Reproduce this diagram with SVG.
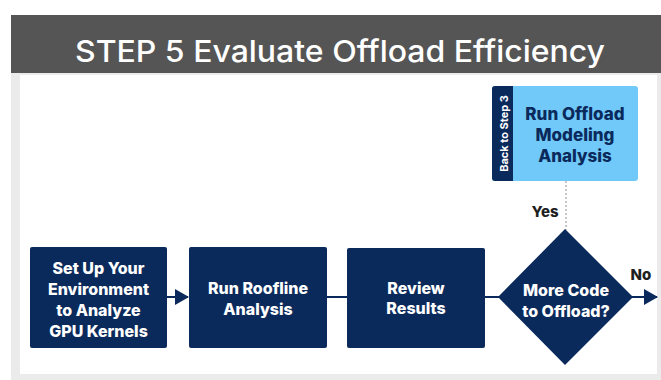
<svg xmlns="http://www.w3.org/2000/svg" width="661" height="380" viewBox="0 0 661 380">
<style>
.node{fill:#0b2a5c}
.t{font-family:Inter,"Liberation Sans",sans-serif;font-weight:800;font-size:16px;fill:#ffffff;text-anchor:middle}
.tb{font-family:Inter,"Liberation Sans",sans-serif;font-weight:800;font-size:17px;fill:#0b2a5c;text-anchor:middle}
.lbl{font-family:Inter,"Liberation Sans",sans-serif;font-weight:800;font-size:15px;fill:#1f1f1f;text-anchor:middle}
.ln{stroke:#0b2a5c;stroke-width:2;fill:none}
</style>
<defs>
<marker id="ah" markerWidth="14" markerHeight="16" refX="13" refY="8" orient="auto" markerUnits="userSpaceOnUse">
<path d="M0,0 L14,8 L0,16 Z" fill="#0b2a5c"/>
</marker>
</defs>
<rect x="0" y="0" width="661" height="380" fill="#ffffff"/>
<rect x="11" y="73" width="650" height="307" fill="#ebebeb"/>
<rect x="20" y="75" width="637" height="299" fill="#ffffff"/>
<g id="header">
<rect x="11" y="15" width="650" height="58" fill="#555555"/>
<text x="340" y="62" font-family="Inter,'Liberation Sans',sans-serif" font-size="30" font-weight="500" fill="#ffffff" text-anchor="middle" textLength="530" lengthAdjust="spacingAndGlyphs">STEP 5 Evaluate Offload Efficiency</text>
</g>
<g id="connectors">
<line class="ln" x1="167" y1="297" x2="188" y2="297" marker-end="url(#ah)"/>
<line class="ln" x1="327" y1="297" x2="347" y2="297"/>
<line class="ln" x1="485" y1="297" x2="499" y2="297"/>
<line class="ln" x1="632" y1="297" x2="657" y2="297" marker-end="url(#ah)"/>
<line x1="566" y1="181" x2="566" y2="230" stroke="#b5b5b5" stroke-width="1.5" stroke-dasharray="2,2"/>
<text class="lbl" x="545" y="217">Yes</text>
<text class="lbl" x="641" y="280">No</text>
</g>
<g id="setup">
<rect class="node" x="30" y="247" width="137" height="101" rx="2"/>
<text class="t" x="98.5" y="274">Set Up Your</text>
<text class="t" x="98.5" y="295">Environment</text>
<text class="t" x="98.5" y="316">to Analyze</text>
<text class="t" x="98.5" y="337">GPU Kernels</text>
</g>
<g id="roofline">
<rect class="node" x="189" y="247" width="138" height="101" rx="2"/>
<text class="t" x="258" y="294">Run Roofline</text>
<text class="t" x="258" y="315">Analysis</text>
</g>
<g id="review">
<rect class="node" x="347" y="248" width="138" height="100" rx="2"/>
<text class="t" x="416" y="294">Review</text>
<text class="t" x="416" y="314">Results</text>
</g>
<g id="decision">
<polygon class="node" points="565,229 633,297 565,365 498,297"/>
<text class="t" x="566" y="296">More Code</text>
<text class="t" x="566" y="317">to Offload?</text>
</g>
<g id="offload">
<rect x="492" y="86" width="146" height="95" rx="3" fill="#70c9f8"/>
<path d="M495,86 H513 V181 H495 A3,3 0 0 1 492,178 V89 A3,3 0 0 1 495,86 Z" fill="#0b2a5c"/>
<text transform="translate(507.5,133.5) rotate(-90)" font-family="Inter,'Liberation Sans',sans-serif" font-weight="700" font-size="11" fill="#ffffff" text-anchor="middle">Back to Step 3</text>
<text class="tb" x="575" y="120">Run Offload</text>
<text class="tb" x="575" y="141">Modeling</text>
<text class="tb" x="575" y="162">Analysis</text>
</g>
</svg>
